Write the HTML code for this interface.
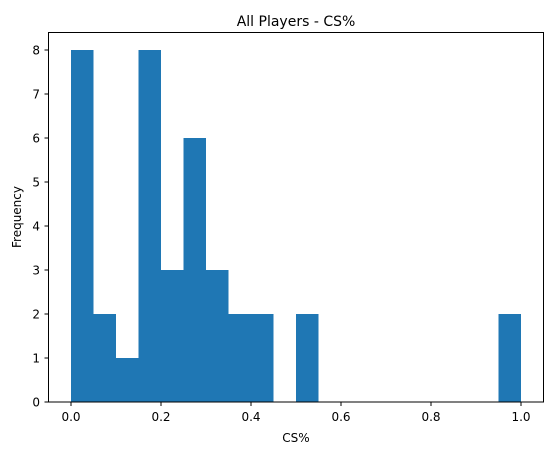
<!DOCTYPE html><html><head><style>body{margin:0;background:#fff}svg{font-family:"DejaVu Sans","Liberation Sans",sans-serif}</style></head><body>
<svg id="c" width="554" height="455">
<text x="296" y="26" font-size="14" text-anchor="middle" fill="#000">All Players - CS%</text>
<text x="296" y="442" font-size="12" text-anchor="middle" fill="#000">CS%</text>
<text transform="translate(21,217) rotate(-90)" font-size="12" text-anchor="middle" fill="#000">Frequency</text>
<g id="bars"></g><g id="ticks"></g>
<rect x="48.5" y="32.5" width="495" height="369.5" fill="none" stroke="#000" stroke-width="1"/>
</svg>
<script>
const binStarts=[0,0.05,0.1,0.15,0.2,0.25,0.3,0.35,0.4,0.45,0.5,0.55,0.6,0.65,0.7,0.75,0.8,0.85,0.9,0.95];
const counts=[8,2,1,8,3,6,3,2,2,0,2,0,0,0,0,0,0,0,0,2];
const binWidth=0.05;
const xTicks=[0,0.2,0.4,0.6,0.8,1.0];
const xTickLabels=["0.0","0.2","0.4","0.6","0.8","1.0"];
const yTicks=[0,1,2,3,4,5,6,7,8];
const X=v=>48.5+(v+0.05)/1.1*495;
const Y=v=>402-v*44;
const NS="http://www.w3.org/2000/svg";
const bars=document.getElementById('bars'),ticks=document.getElementById('ticks');
binStarts.forEach((b,i)=>{if(!counts[i])return;const r=document.createElementNS(NS,'rect');
r.setAttribute('x',X(b));r.setAttribute('width',X(b+binWidth)-X(b));r.setAttribute('y',Y(counts[i]));r.setAttribute('height',Y(0)-Y(counts[i]));r.setAttribute('fill','#1f77b4');


bars.appendChild(r);});
xTicks.forEach((t,i)=>{const x=X(t);const l=document.createElementNS(NS,'line');l.setAttribute('x1',x);l.setAttribute('x2',x);l.setAttribute('y1',402);l.setAttribute('y2',406);l.setAttribute('stroke','#000');ticks.appendChild(l);
const s=document.createElementNS(NS,'text');s.setAttribute('x',x);s.setAttribute('y',421);s.setAttribute('font-size','12');s.setAttribute('text-anchor','middle');s.textContent=xTickLabels[i];


ticks.appendChild(s);});
yTicks.forEach(t=>{const y=Y(t);const l=document.createElementNS(NS,'line');l.setAttribute('x1',44.5);l.setAttribute('x2',48.5);l.setAttribute('y1',y);l.setAttribute('y2',y);l.setAttribute('stroke','#000');ticks.appendChild(l);
const s=document.createElementNS(NS,'text');s.setAttribute('x',40);s.setAttribute('y',y+4.5);s.setAttribute('font-size','12');s.setAttribute('text-anchor','end');s.textContent=t;


ticks.appendChild(s);});
</script></body></html>
